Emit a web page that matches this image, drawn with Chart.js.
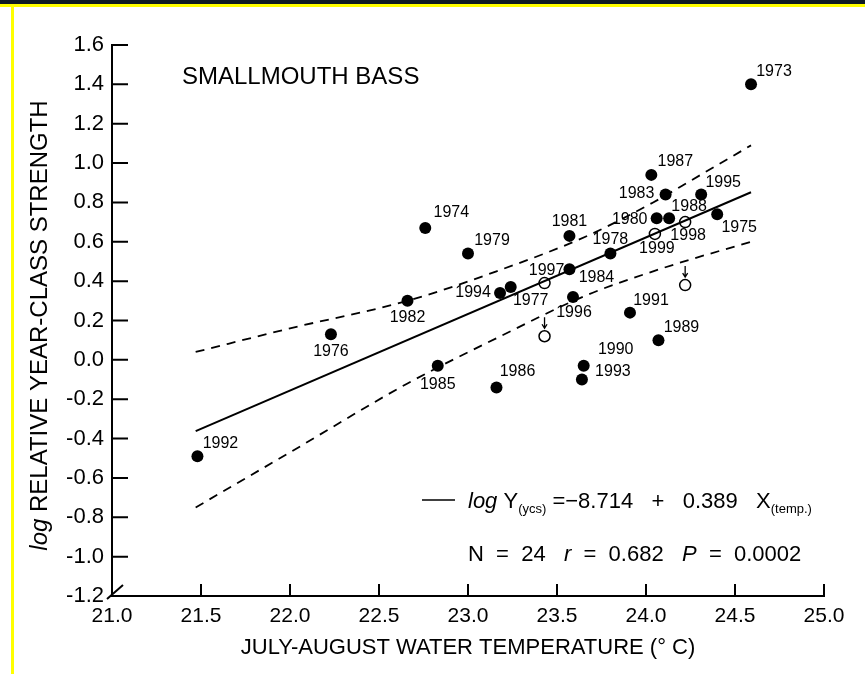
<!DOCTYPE html>
<html>
<head>
<meta charset="utf-8">
<script src="https://cdn.jsdelivr.net/npm/chart.js@4.4.1/dist/chart.umd.min.js"></script>
<style>
  html, body { margin: 0; padding: 0; background: #fff; }
  #wrap { position: relative; width: 865px; height: 674px; overflow: hidden; }
  #wrap canvas { position: absolute; left: 0; top: 0; }
  .bar-top { position: absolute; left: 0; top: 0; width: 865px; height: 4px; background: #0f1b24; }
  .bar-yellow { position: absolute; left: 0; top: 4px; width: 865px; height: 3px; background: #ffff00; }
  .bar-left { position: absolute; left: 11px; top: 4px; width: 3px; height: 670px; background: #ffff00; }
</style>
</head>
<body>
<div id="wrap">
  <canvas id="chart" width="865" height="674"></canvas>
  <div class="bar-top"></div>
  <div class="bar-yellow"></div>
  <div class="bar-left"></div>
</div>
<script>
// Year-class strength vs. July-August water temperature

// years used in the regression (filled dots)
const fitYears = [1973, 1987, 1983, 1995, 1980, 1988, 1975, 1981, 1978, 1974, 1979, 1984,
  1994, 1977, 1996, 1991, 1989, 1990, 1993, 1986, 1985, 1982, 1976, 1992];
const fitTemps = [24.59, 24.03, 24.11, 24.31, 24.06, 24.13, 24.40, 23.57, 23.80, 22.76, 23.00, 23.57,
  23.18, 23.24, 23.59, 23.91, 24.07, 23.65, 23.64, 23.16, 22.83, 22.66, 22.23, 21.48];
const fitStrength = [1.40, 0.94, 0.84, 0.84, 0.72, 0.72, 0.74, 0.63, 0.54, 0.67, 0.54, 0.46,
  0.34, 0.37, 0.32, 0.24, 0.10, -0.03, -0.10, -0.14, -0.03, 0.30, 0.13, -0.49];

// later years (open circles); the last two carry an arrow instead of a year
const laterYears = ["1997", "1998", "1999", "", ""];
const laterTemps = [23.43, 24.22, 24.05, 23.43, 24.22];
const laterStrength = [0.39, 0.70, 0.64, 0.12, 0.38];
const laterArrow = [false, false, false, true, true];

// regression: log Y = a + b X
const intercept = -8.714;
const slope = 0.389;
const lineTemps = [21.47, 24.59];

// 95% band
const bandTemps = [21.47, 22.0, 22.66, 23.16, 23.67, 24.04, 24.25, 24.59];
const bandUpper = [0.04, 0.16, 0.30, 0.45, 0.63, 0.80, 0.91, 1.09];
const bandLower = [-0.75, -0.47, -0.12, 0.11, 0.33, 0.45, 0.51, 0.60];

const xTicks = [21.0, 21.5, 22.0, 22.5, 23.0, 23.5, 24.0, 24.5, 25.0];
const yTicks = [1.6, 1.4, 1.2, 1.0, 0.8, 0.6, 0.4, 0.2, 0.0, -0.2, -0.4, -0.6, -0.8, -1.0, -1.2];

// where each year label sits relative to its dot (px)
const labelOffset = {
  1973: [23, -13], 1987: [24, -13], 1983: [-29, -1], 1995: [22, -12], 1980: [-27, 1],
  1988: [20, -12], 1975: [22, 13], 1981: [0, -14], 1978: [0, -14], 1974: [26, -15],
  1979: [24, -13], 1984: [27, 8], 1994: [-27, 0], 1977: [20, 14], 1996: [1, 16],
  1991: [21, -12], 1989: [23, -13], 1990: [32, -16], 1993: [31, -8], 1986: [21, -16],
  1985: [0, 19], 1982: [0, 17], 1976: [0, 17], 1992: [23, -13],
  1997: [2, -13], 1998: [3, 13], 1999: [2, 15],
};

const FONT = "'Liberation Sans', Arial, Helvetica, sans-serif";

const fitPoints = fitTemps.map((t, i) => ({ x: t, y: fitStrength[i] }));
const laterPoints = laterTemps.map((t, i) => ({ x: t, y: laterStrength[i] }));
const linePoints = lineTemps.map(t => ({ x: t, y: intercept + slope * t }));
const upperPoints = bandTemps.map((t, i) => ({ x: t, y: bandUpper[i] }));
const lowerPoints = bandTemps.map((t, i) => ({ x: t, y: bandLower[i] }));

function drawRuns(ctx, x, y, runs) {
  runs.forEach(([text, font, dy]) => {
    ctx.font = font;
    ctx.fillText(text, x, y + (dy || 0));
    x += ctx.measureText(text).width;
  });
  return x;
}

// ticks pointing into the plot, axis break and the y title
const axisDecor = {
  id: "axisDecor",
  afterDraw(chart) {
    const { ctx, scales: { x, y } } = chart;
    ctx.save();
    ctx.strokeStyle = "#000";
    ctx.lineWidth = 2;
    ctx.beginPath();
    yTicks.forEach(v => {
      const py = y.getPixelForValue(v);
      ctx.moveTo(x.left, py);
      ctx.lineTo(x.left + 16, py);
    });
    xTicks.forEach(v => {
      const px = x.getPixelForValue(v);
      ctx.moveTo(px, y.bottom);
      ctx.lineTo(px, y.bottom - 12);
    });
    // break mark at the origin
    ctx.moveTo(x.left - 5, y.bottom + 3);
    ctx.lineTo(x.left + 11, y.bottom - 11);
    ctx.stroke();

    ctx.fillStyle = "#000";
    ctx.translate(40, (y.top + y.bottom) / 2 + 5);
    ctx.rotate(-Math.PI / 2);
    ctx.textBaseline = "middle";
    const title = [["log ", "italic 24px " + FONT], ["RELATIVE YEAR-CLASS STRENGTH", "24px " + FONT]];
    let w = 0;
    title.forEach(([t, f]) => { ctx.font = f; w += ctx.measureText(t).width; });
    drawRuns(ctx, -w / 2, 0, title);
    ctx.restore();
  }
};

// year labels, arrows, species name and the regression statistics
const notes = {
  id: "notes",
  afterDatasetsDraw(chart) {
    const { ctx, scales: { x, y } } = chart;
    ctx.save();
    ctx.fillStyle = "#000";
    ctx.strokeStyle = "#000";
    ctx.textAlign = "center";
    ctx.textBaseline = "middle";
    ctx.font = "16px " + FONT;
    fitYears.forEach((yr, i) => {
      const [dx, dy] = labelOffset[yr];
      ctx.fillText(String(yr), x.getPixelForValue(fitTemps[i]) + dx, y.getPixelForValue(fitStrength[i]) + dy);
    });
    laterYears.forEach((yr, i) => {
      const px = x.getPixelForValue(laterTemps[i]);
      const py = y.getPixelForValue(laterStrength[i]);
      if (yr) {
        const [dx, dy] = labelOffset[yr];
        ctx.fillText(yr, px + dx, py + dy);
      }
      if (laterArrow[i]) {
        ctx.lineWidth = 1.3;
        ctx.beginPath();
        ctx.moveTo(px, py - 19);
        ctx.lineTo(px, py - 9);
        ctx.moveTo(px - 2.5, py - 12);
        ctx.lineTo(px, py - 8);
        ctx.lineTo(px + 2.5, py - 12);
        ctx.stroke();
      }
    });

    ctx.textAlign = "left";
    ctx.font = "24px " + FONT;
    ctx.fillText("SMALLMOUTH BASS", 182, 77);

    ctx.textBaseline = "alphabetic";
    ctx.lineWidth = 1.5;
    ctx.beginPath();
    ctx.moveTo(422, 500);
    ctx.lineTo(455, 500);
    ctx.stroke();
    const big = "22px " + FONT;
    const ital = "italic 22px " + FONT;
    const small = "13px " + FONT;
    drawRuns(ctx, 468, 508, [
      ["log", ital], [" Y", big], ["(ycs)", small, 5], [" =\u22128.714   +   0.389   X", big], ["(temp.)", small, 5]
    ]);
    drawRuns(ctx, 468, 561, [
      ["N  =  24   ", big], ["r", ital], ["  =  0.682   ", big], ["P", ital], ["  =  0.0002", big]
    ]);
    ctx.restore();
  }
};

new Chart(document.getElementById("chart"), {
  type: "scatter",
  data: {
    datasets: [
      {
        type: "line", data: linePoints, borderColor: "#000", borderWidth: 2,
        pointRadius: 0, fill: false,
      },
      {
        type: "line", data: upperPoints, borderColor: "#000", borderWidth: 1.8, borderDash: [9, 7],
        pointRadius: 0, fill: false, cubicInterpolationMode: "monotone",
      },
      {
        type: "line", data: lowerPoints, borderColor: "#000", borderWidth: 1.8, borderDash: [9, 7],
        pointRadius: 0, fill: false, cubicInterpolationMode: "monotone",
      },
      {
        data: laterPoints, pointRadius: 5.5, pointBackgroundColor: "#fff",
        pointBorderColor: "#000", pointBorderWidth: 1.5,
      },
      {
        data: fitPoints, pointRadius: 6, pointBackgroundColor: "#000",
        pointBorderColor: "#000", pointBorderWidth: 0,
      },
    ],
  },
  options: {
    responsive: false,
    animation: false,
    layout: { padding: { top: 45, right: 41, left: 0, bottom: 0 } },
    plugins: { legend: { display: false }, tooltip: { enabled: false } },
    scales: {
      x: {
        type: "linear", min: 21, max: 25,
        afterFit: s => { s.height = 78; },
        afterBuildTicks: s => { s.ticks = xTicks.map(v => ({ value: v })); },
        grid: { display: false, drawTicks: false },
        border: { display: true, color: "#000", width: 2 },
        ticks: {
          color: "#000", padding: 8, maxRotation: 0, autoSkip: false,
          font: { family: FONT, size: 21 },
          callback: v => v.toFixed(1),
        },
        title: {
          display: true, text: "JULY-AUGUST WATER TEMPERATURE (\u00B0 C)", color: "#000",
          font: { family: FONT, size: 22 }, padding: { top: 0, bottom: 13 },
        },
      },
      y: {
        type: "linear", min: -1.2, max: 1.6,
        afterFit: s => { s.width = 112; },
        afterBuildTicks: s => { s.ticks = yTicks.map(v => ({ value: v })); },
        grid: { display: false, drawTicks: false },
        border: { display: true, color: "#000", width: 2 },
        ticks: {
          color: "#000", padding: 8, autoSkip: false,
          font: { family: FONT, size: 22 },
          callback: v => v.toFixed(1),
        },
      },
    },
  },
  plugins: [axisDecor, notes],
});
</script>
</body>
</html>
